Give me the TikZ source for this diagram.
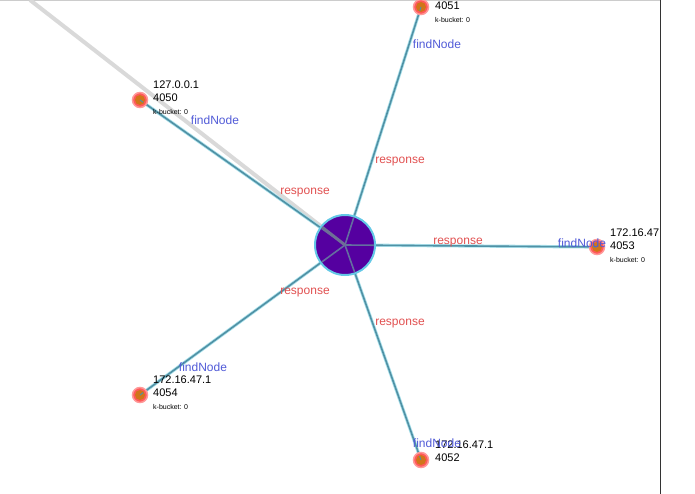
\documentclass[tikz,border=0pt]{standalone}
\usepackage{fontspec}
\setmainfont{Liberation Sans}
\usetikzlibrary{calc}
\begin{document}
\begin{tikzpicture}[x=1pt,y=-1pt,
  peer/.style={circle,minimum size=15pt,inner sep=0pt,fill=red!65!white,draw=red!40!white,line width=1.5pt,
    path picture={\fill[orange!80!black!90] (path picture bounding box.center) circle (5pt);}},
  hub/.style={circle,minimum size=60pt,inner sep=0pt,fill={rgb,255:red,85;green,0;blue,160},draw={rgb,255:red,100;green,200;blue,230},line width=2pt},
  glow/.style={draw={rgb,255:red,170;green,225;blue,235},line width=3.2pt},
  link/.style={draw={rgb,255:red,80;green,145;blue,165},line width=1.6pt},
  fn/.style={text={rgb,255:red,80;green,90;blue,215},font=\fontsize{12}{12}\selectfont,inner sep=0pt},
  rs/.style={text={rgb,255:red,225;green,80;blue,80},font=\fontsize{12}{12}\selectfont,inner sep=0pt},
  lbl/.style={font=\fontsize{11}{13}\selectfont,align=left,anchor=north west,inner sep=0pt},
  kb/.style={font=\fontsize{7}{8}\selectfont,anchor=north west,inner sep=0pt}]
\useasboundingbox (0,0) rectangle (695,494);
\draw[gray!40,line width=0.6pt] (0,0.5) -- (660,0.5);
\draw[black!80,line width=0.6pt] (660,0) -- (660,494);
\coordinate (c) at (345,245);
\coordinate (far) at (30,0);
\draw[gray!30,line width=4pt] (far) -- (c);
\coordinate (p0) at (140,100);
\coordinate (p1) at (421,7);
\coordinate (p3) at (597,247);
\coordinate (p4) at (140,395);
\coordinate (p2) at (421,460);
\foreach \p in {p0,p1,p2,p3,p4}{\draw[glow] (c) -- (\p); \draw[link] (c) -- (\p);}
\node[hub] (hub) at (c) {};
\foreach \p in {p0,p1,p2,p3,p4}{\draw[draw={rgb,255:red,100;green,110;blue,160},line width=1.6pt] (c) -- ($(c)!29pt!(\p)$);}
\draw[draw={rgb,255:red,110;green,110;blue,150},line width=3pt] (c) -- ($(c)!29pt!(far)$);
\node[peer] (n0) at (p0) {};
\node[peer] (n1) at (p1) {};
\node[peer] (n3) at (p3) {};
\node[peer] (n4) at (p4) {};
\node[peer] (n2) at (p2) {};
\foreach \p in {p0,p1,p2,p3,p4}{\draw[link,line width=1pt] (\p) -- ($(\p)!4pt!(c)$);}
\node[lbl] at (153,81) {127.0.0.1\\4050};
\node[kb] at (153,109) {k-bucket: 0};
\node[lbl] at (435,2) {4051};
\node[kb] at (435,17) {k-bucket: 0};
\node[lbl] at (610,229) {172.16.47\\4053};
\node[kb] at (610,257) {k-bucket: 0};
\node[lbl] at (153,376) {172.16.47.1\\4054};
\node[kb] at (153,404) {k-bucket: 0};
\node[lbl] at (435,441) {172.16.47.1\\4052};
\node[fn] at (215,120) {findNode};
\node[fn] at (437,44) {findNode};
\node[fn] at (582,243) {findNode};
\node[fn] at (203,367) {findNode};
\node[fn] at (437,443) {findNode};
\node[rs] at (305,193) {response};
\node[rs] at (400,162) {response};
\node[rs] at (458,243) {response};
\node[rs] at (305,293) {response};
\node[rs] at (400,324) {response};
\end{tikzpicture}
\end{document}
